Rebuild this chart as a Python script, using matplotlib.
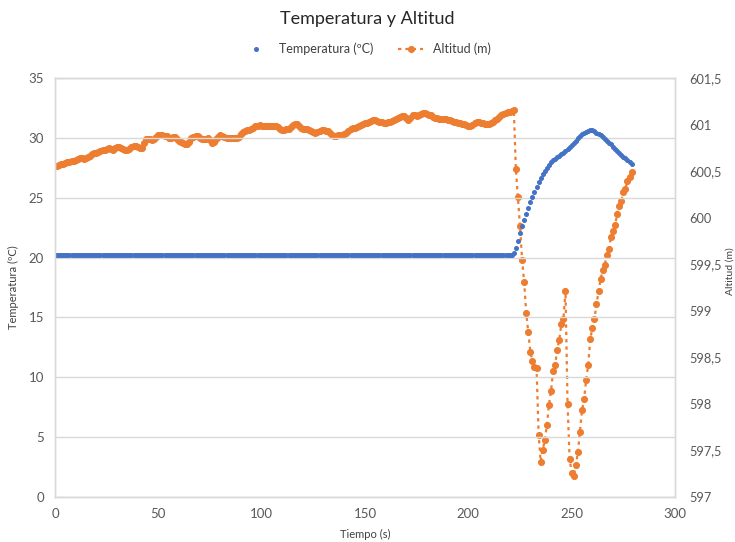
import matplotlib as mpl
mpl.use('agg')
import matplotlib.pyplot as plt
from matplotlib.ticker import FuncFormatter

plt.rcParams['font.family'] = ['Lato', 'DejaVu Sans']

# sample time (s), one reading per second
tiempo = list(range(0, 280))

# temperature (ºC): flat until 221 s, then read point by point
temp_flat = [20.2] * 222
temp_rise = [20.4, 20.8, 21.35, 22.05, 22.65, 23.15, 23.65, 24.15, 24.65, 25.1,
             25.5, 25.9, 26.3, 26.62, 26.95, 27.25, 27.5, 27.75, 27.95, 28.12,
             28.25, 28.38, 28.5, 28.63, 28.78, 28.9, 29.05, 29.2, 29.4, 29.6,
             29.78, 29.95, 30.15, 30.3, 30.42, 30.52, 30.58, 30.62, 30.62, 30.57,
             30.45, 30.33, 30.22, 30.1, 29.93, 29.75, 29.6, 29.45, 29.28, 29.1,
             28.93, 28.78, 28.6, 28.42, 28.28, 28.12, 27.95, 27.8]
temperatura = temp_flat + temp_rise

# altitude (m)
alt_ground = [
    600.55, 600.56, 600.57, 600.58, 600.58, 600.59, 600.60, 600.60, 600.61, 600.61,
    600.62, 600.63, 600.64, 600.64, 600.63, 600.64, 600.65, 600.66, 600.68, 600.69,
    600.70, 600.71, 600.72, 600.73, 600.73, 600.74, 600.75, 600.74, 600.73, 600.75,
    600.76, 600.76, 600.75, 600.74, 600.73, 600.73, 600.74, 600.76, 600.77, 600.77,
    600.76, 600.75, 600.75, 600.80, 600.84, 600.85, 600.84, 600.83, 600.84, 600.87,
    600.89, 600.89, 600.89, 600.88, 600.88, 600.86, 600.86, 600.87, 600.87, 600.84,
    600.82, 600.81, 600.80, 600.79, 600.79, 600.81, 600.86, 600.87, 600.88, 600.88,
    600.86, 600.84, 600.84, 600.85, 600.86, 600.83, 600.80, 600.81, 600.84, 600.87,
    600.89, 600.88, 600.87, 600.86, 600.86, 600.86, 600.86, 600.86, 600.86, 600.87,
    600.90, 600.92, 600.93, 600.94, 600.94, 600.95, 600.96, 600.98, 600.99, 601.00,
    600.99, 600.98, 600.98, 600.98, 600.98, 600.98, 600.98, 600.98, 600.97, 600.95,
    600.94, 600.94, 600.95, 600.95, 600.97, 601.00, 601.01, 601.01, 600.99, 600.96,
    600.95, 600.95, 600.95, 600.94, 600.93, 600.92, 600.91, 600.92, 600.93, 600.94,
    600.94, 600.93, 600.93, 600.91, 600.89, 600.88, 600.88, 600.89, 600.89, 600.89,
    600.90, 600.91, 600.93, 600.95, 600.96, 600.96, 600.97, 600.98, 601.00, 601.01,
    601.02, 601.02, 601.03, 601.04, 601.05, 601.05, 601.04, 601.03, 601.03, 601.02,
    601.02, 601.03, 601.03, 601.04, 601.05, 601.06, 601.07, 601.08, 601.09, 601.09,
    601.07, 601.05, 601.07, 601.10, 601.10, 601.09, 601.10, 601.11, 601.12, 601.12,
    601.11, 601.10, 601.10, 601.08, 601.07, 601.07, 601.06, 601.06, 601.06, 601.06,
    601.05, 601.05, 601.04, 601.03, 601.03, 601.02, 601.02, 601.01, 601.01, 601.00,
    600.99, 600.99, 601.00, 601.02, 601.03, 601.03, 601.02, 601.02, 601.01, 601.01,
    601.01, 601.02, 601.03, 601.05, 601.06, 601.08, 601.10, 601.11, 601.12, 601.13,
    601.14, 601.15, 601.16]
alt_flight = [
    600.52, 600.22, 599.91, 599.55, 599.31, 598.98, 598.77, 598.56, 598.46, 598.40,
    598.39, 597.67, 597.38, 597.51, 597.61, 597.77, 597.99, 598.14, 598.35, 598.42,
    598.58, 598.69, 598.86, 598.91, 599.21, 598.00, 597.41, 597.26, 597.23, 597.34,
    597.48, 597.70, 597.93, 598.05, 598.26, 598.42, 598.70, 598.81, 598.91, 599.07,
    599.21, 599.34, 599.44, 599.49, 599.60, 599.66, 599.79, 599.86, 599.92, 600.04,
    600.13, 600.18, 600.28, 600.31, 600.39, 600.44, 600.49]
altitud = alt_ground + alt_flight

BLUE = '#4472C4'
ORANGE = '#ED7D31'
GRAY = '#595959'
GRID = '#D9D9D9'


def comma(v, pos):
    s = ('%.1f' % v).rstrip('0').rstrip('.')
    return s.replace('.', ',')


def main():
    fig = plt.figure(figsize=(7.35, 5.42), dpi=100)
    ax = fig.add_axes([0.0748, 0.083, 0.8436, 0.773])
    ax2 = ax.twinx()

    ax.set_zorder(ax2.get_zorder() + 1)
    ax.patch.set_visible(False)

    l1, = ax.plot(tiempo, temperatura, linestyle='none', marker='o', ms=2.6,
                  color=BLUE, label='Temperatura (ºC)')
    l2, = ax2.plot(tiempo, altitud, linestyle=(0, (1.5, 1.8)), lw=1.6,
                   marker='o', ms=4.1, color=ORANGE, label='Altitud (m)')

    ax.set_xlim(0, 300)
    ax.set_ylim(0, 35)
    ax.set_xticks(range(0, 301, 50))
    ax.set_yticks(range(0, 36, 5))
    ax2.set_ylim(597, 601.5)
    ax2.set_yticks([597, 597.5, 598, 598.5, 599, 599.5, 600, 600.5, 601, 601.5])
    ax2.yaxis.set_major_formatter(FuncFormatter(comma))

    ax.grid(axis='y', color=GRID, linewidth=1.0)
    ax.set_axisbelow(True)
    for a in (ax, ax2):
        for sp in a.spines.values():
            sp.set_color(GRID)
            sp.set_linewidth(1.0)
        a.tick_params(length=0, colors=GRAY, labelsize=9.5)
    ax.tick_params(axis='x', pad=8)
    ax.tick_params(axis='y', pad=8)
    ax2.tick_params(axis='y', pad=10, labelsize=9.2)

    ax.set_xlabel('Tiempo (s)', color='#404040', fontsize=8, labelpad=6)
    ax.set_ylabel('Temperatura (ºC)', color='#404040', fontsize=8, labelpad=7)
    fig.text(0.993, 0.5, 'Altitud (m)', rotation=90, color='#404040',
             fontsize=7.5, ha='center', va='center')

    fig.suptitle('Temperatura y Altitud', x=0.5, y=0.98, fontsize=13,
                 color='#262626')
    fig.legend(handles=[l1, l2], loc='center', bbox_to_anchor=(0.5, 0.91),
               ncol=2, frameon=False, fontsize=9, handlelength=2.0,
               columnspacing=2.0, labelcolor='#404040')

    fig.savefig('out.png', dpi=100)


if __name__ == '__main__':
    main()
